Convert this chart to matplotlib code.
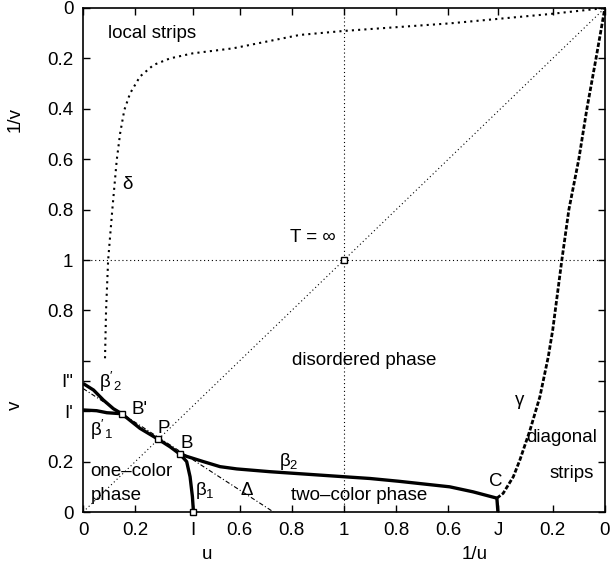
import numpy as np
import matplotlib.pyplot as plt

plt.rcParams['font.family'] = ['Liberation Sans', 'DejaVu Sans']
plt.rcParams['mathtext.fontset'] = 'custom'
plt.rcParams['mathtext.rm'] = 'Liberation Sans'
plt.rcParams['mathtext.it'] = 'Liberation Sans'
plt.rcParams['mathtext.default'] = 'regular'

# folded coordinates: x in [0,1] is u, x in [1,2] is 2-1/u ; same for y with v and 1/v
delta_x = [0.084, 0.088, 0.096, 0.112, 0.129, 0.142, 0.158, 0.18, 0.218, 0.27, 0.333,
           0.42, 0.575, 0.70, 0.83, 1.0, 1.406, 1.789, 2.0]
delta_y = [0.61, 0.80, 1.0, 1.2, 1.397, 1.503, 1.595, 1.661, 1.728, 1.774, 1.80,
           1.82, 1.84, 1.866, 1.893, 1.909, 1.939, 1.976, 2.0]

gamma_x = [1.586, 1.61, 1.649, 1.674, 1.713, 1.751, 1.783, 1.80, 1.835, 1.862, 1.90, 1.931, 1.966, 2.0]
gamma_y = [0.055, 0.074, 0.14, 0.206, 0.325, 0.458, 0.616, 0.722, 1.0, 1.2, 1.4, 1.6, 1.8, 2.0]

b2p_u = [0.0, 0.04, 0.078, 0.116, 0.148]
b2p_v = [0.51, 0.484, 0.444, 0.41, 0.39]

b1p_u = [0.0, 0.052, 0.091, 0.148]
b1p_v = [0.405, 0.402, 0.394, 0.39]

# common part B' -> P -> B
mid_u = [0.148, 0.218, 0.289, 0.333, 0.372]
mid_v = [0.39, 0.332, 0.288, 0.259, 0.229]

b1_u = [0.372, 0.397, 0.41, 0.419, 0.423]
b1_v = [0.229, 0.20, 0.14, 0.061, 0.0]

b2_x = [0.372, 0.461, 0.525, 0.589, 0.716, 0.844, 1.0, 1.1, 1.21, 1.405, 1.495, 1.586]
b2_y = [0.229, 0.20, 0.18, 0.171, 0.16, 0.151, 0.14, 0.133, 0.122, 0.10, 0.08, 0.055]

cj_x = [1.586, 1.59]
cj_y = [0.055, 0.0]

delta_line_x = [0.0, 0.73]
delta_line_y = [0.49, 0.0]

pts_x = [0.148, 0.289, 0.372, 0.423, 1.0]
pts_y = [0.39, 0.288, 0.229, 0.0, 1.0]

xtick_pos = [0, 0.2, 0.42, 0.6, 0.8, 1.0, 1.2, 1.4, 1.59, 1.8, 2.0]
xtick_lab = ['0', '0.2', 'I', '0.6', '0.8', '1', '0.8', '0.6', 'J', '0.2', '0']
ytick_pos = [0, 0.2, 0.40, 0.52, 0.6, 0.8, 1.0, 1.2, 1.4, 1.6, 1.8, 2.0]
ytick_lab = ['0', '0.2', "I'", 'I"', '', '0.8', '1', '0.8', '0.6', '0.4', '0.2', '0']

fig = plt.figure(figsize=(6.11, 5.71), dpi=100)
ax = fig.add_axes([0.136, 0.1033, 0.854, 0.8827])

fs = 13.5
k = 'black'

# guide lines
ax.plot([0, 2], [0, 2], color=k, lw=0.8, ls=(0, (1, 2.5)))
ax.plot([0, 2], [1, 1], color=k, lw=0.8, ls=(0, (1, 2.5)))
ax.plot([1, 1], [0, 2], color=k, lw=0.8, ls=(0, (1, 2.5)))
ax.plot(delta_line_x, delta_line_y, color=k, lw=0.8, ls=(0, (4, 2, 1, 2)))

ax.plot(delta_x, delta_y, color=k, lw=1.5, ls=(0, (1, 2)))
ax.plot(gamma_x, gamma_y, color=k, lw=2.0, ls=(0, (1.6, 0.7)))

for xs, ys in [(b2p_u, b2p_v), (b1p_u, b1p_v), (mid_u, mid_v), (b1_u, b1_v), (b2_x, b2_y), (cj_x, cj_y)]:
    ax.plot(xs, ys, color=k, lw=2.4, solid_capstyle='butt', solid_joinstyle='round')

ax.plot(pts_x, pts_y, ls='none', marker='s', ms=5, mfc='white', mec=k, mew=1.0, clip_on=False, zorder=5)

ax.set_xlim(0, 2)
ax.set_ylim(0, 2)
ax.set_xticks(xtick_pos)
ax.set_xticklabels(xtick_lab, fontsize=fs)
ax.set_yticks(ytick_pos)
ax.set_yticklabels(ytick_lab, fontsize=fs)
ax.tick_params(direction='in', length=5, width=1, top=True, right=True, pad=7)
for s in ax.spines.values():
    s.set_linewidth(1.2)

# labels inside the plot
ax.text(0.096, 1.90, 'local strips', fontsize=fs, ha='left', va='center')
ax.text(0.169, 1.298, 'δ', fontsize=fs, ha='center', va='center')
ax.text(0.88, 1.091, 'T = ∞', fontsize=fs, ha='center', va='center')
ax.text(1.078, 0.60, 'disordered phase', fontsize=fs, ha='center', va='center')
ax.text(1.674, 0.444, 'γ', fontsize=fs, ha='center', va='center')
ax.text(1.835, 0.294, 'diagonal', fontsize=fs, ha='center', va='center')
ax.text(1.872, 0.151, 'strips', fontsize=fs, ha='center', va='center')
ax.text(1.582, 0.12, 'C', fontsize=fs, ha='center', va='center')
ax.text(1.057, 0.067, 'two\u2013color phase', fontsize=fs, ha='center', va='center')
ax.text(0.627, 0.087, 'Δ', fontsize=fs, ha='center', va='center')
ax.text(0.467, 0.087, r'$\beta_1$', fontsize=fs, ha='center', va='center')
ax.text(0.79, 0.20, r'$\beta_2$', fontsize=fs, ha='center', va='center')
ax.text(0.397, 0.273, 'B', fontsize=fs, ha='center', va='center')
ax.text(0.308, 0.332, 'P', fontsize=fs, ha='center', va='center')
ax.text(0.218, 0.405, "B'", fontsize=fs, ha='center', va='center')
ax.text(0.072, 0.325, r"$\beta'_1$", fontsize=fs, ha='center', va='center')
ax.text(0.103, 0.517, r"$\beta'_2$", fontsize=fs, ha='center', va='center')
ax.text(0.029, 0.16, 'one\u2013color', fontsize=fs, ha='left', va='center')
ax.text(0.029, 0.067, 'phase', fontsize=fs, ha='left', va='center')

# axis labels
ax.text(0.2375, -0.085, 'u', fontsize=fs, ha='center', va='center', transform=ax.transAxes)
ax.text(0.751, -0.085, '1/u', fontsize=fs, ha='center', va='center', transform=ax.transAxes)
ax.text(-0.13, 0.778, '1/v', fontsize=fs, ha='center', va='center', rotation=90, transform=ax.transAxes)
ax.text(-0.13, 0.212, 'v', fontsize=fs, ha='center', va='center', rotation=90, transform=ax.transAxes)

fig.savefig('out.png', dpi=100)
